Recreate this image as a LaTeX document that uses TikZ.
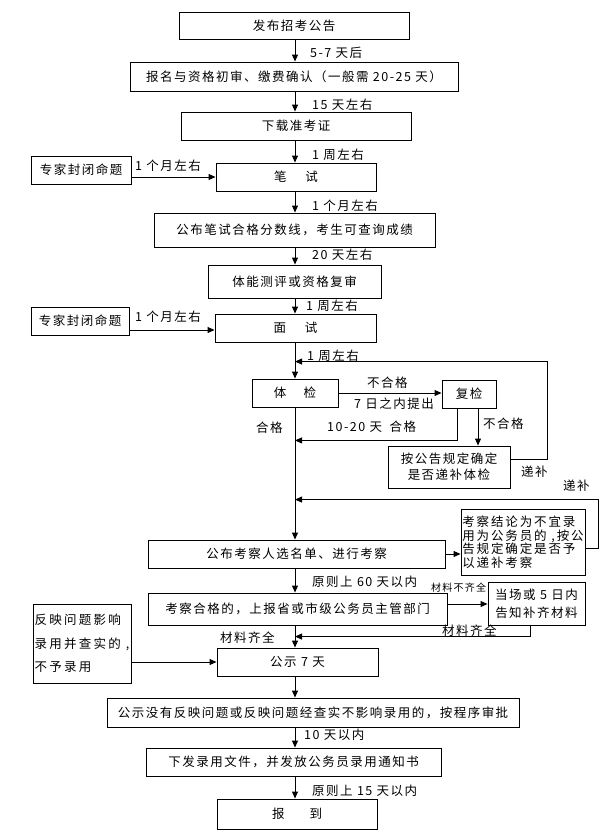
\documentclass[tikz,border=0pt]{standalone}
\usepackage{fontspec}
\setmainfont[LetterSpace=12]{Noto Sans CJK SC}
\usetikzlibrary{arrows.meta}
\tikzset{
  box/.style={draw, line width=0.9pt, inner sep=0pt, align=center},
  arr/.style={-{Triangle[length=7pt,width=6pt]}, line width=0.9pt},
  ln/.style={line width=0.9pt},
  lbl/.style={inner sep=0pt, anchor=west},
}
\begin{document}
\begin{tikzpicture}[x=1pt,y=-1pt, font=\fontsize{12.5}{15}\selectfont]
\useasboundingbox (0,0) rectangle (600,836);
\coordinate (m) at (295,0);

% main column
\node[box, minimum width=230, minimum height=27] (b1) at (294,25.5) {发布招考公告};
\node[box, minimum width=328, minimum height=29] (b2) at (294,76.5) {报名与资格初审、缴费确认（一般需 20-25 天）};
\node[box, minimum width=230, minimum height=28] (b3) at (296,126) {下载准考证};
\node[box, minimum width=160, minimum height=28] (b4) at (296,177) {笔\hspace{1.5em}试};
\node[box, minimum width=281, minimum height=34] (b5) at (294.5,230) {公布笔试合格分数线，考生可查询成绩};
\node[box, minimum width=173, minimum height=33] (b6) at (294.5,281.5) {体能测评或资格复审};
\node[box, minimum width=161, minimum height=28] (b7) at (295.5,328) {面\hspace{1.5em}试};
\node[box, minimum width=86, minimum height=28] (b8) at (295,393) {体\hspace{1.4em}检};
\node[box, minimum width=297, minimum height=28] (b9) at (296.5,554) {公布考察人选名单、进行考察};
\node[box, minimum width=299, minimum height=32] (b10) at (297.5,609) {考察合格的，上报省或市级公务员主管部门};
\node[box, minimum width=161, minimum height=28] (b11) at (297.5,662) {公示 7 天};
\node[box, minimum width=412, minimum height=29] (b12) at (313,712.5) {公示没有反映问题或反映问题经查实不影响录用的，按程序审批};
\node[box, minimum width=295, minimum height=28] (b13) at (293.5,762) {下发录用文件，并发放公务员录用通知书};
\node[box, minimum width=160, minimum height=30] (b14) at (297,814) {报\hspace{2em}到};

% side boxes
\node[box, minimum width=100, minimum height=28] (e1) at (81,170) {专家封闭命题};
\node[box, minimum width=98, minimum height=28] (e2) at (80,321) {专家封闭命题};
\node[box, minimum width=54, minimum height=28] (r1) at (469,394) {复检};
\node[box, minimum width=122, minimum height=42, font=\fontsize{12.5}{16}\selectfont] (r2) at (449,467) {按公告规定确定\\是否递补体检};
\node[box, minimum width=124, minimum height=66, align=left,
      font=\fontsize{12.5}{13.5}\selectfont\addfontfeature{LetterSpace=15}] (r3) at (523,542)
      {考察结论为不宜录\\用为公务员的~,按公\\告规定确定是否予\\以递补考察};
\node[box, minimum width=97, minimum height=43, font=\fontsize{12.5}{18}\selectfont] (r4) at (536.5,603.5) {当场或 5 日内\\告知补齐材料};
\node[box, minimum width=98, minimum height=79, align=left,
      font=\fontsize{12.5}{23.5}\selectfont\addfontfeature{LetterSpace=18}] (l1) at (82,643.5)
      {反映问题影响\\录用并查实的~,\\不予录用};

% main arrows
\draw[arr] (b1.south -| m) -- (b2.north -| m);
\draw[arr] (b2.south -| m) -- (b3.north -| m);
\draw[arr] (b3.south -| m) -- (b4.north -| m);
\draw[arr] (b4.south -| m) -- (b5.north -| m);
\draw[arr] (b5.south -| m) -- (b6.north -| m);
\draw[arr] (b6.south -| m) -- (b7.north -| m);
\draw[arr] (b7.south -| m) -- (b8.north -| m);
\draw[arr] (b8.south -| m) -- (b9.north -| m);
\draw[arr] (b9.south -| m) -- (b10.north -| m);
\draw[arr] (b10.south -| m) -- (b11.north -| m);
\draw[arr] (b11.south -| m) -- (b12.north -| m);
\draw[arr] (b12.south -| m) -- (b13.north -| m);
\draw[arr] (b13.south -| m) -- (b14.north -| m);

% side arrows
\draw[arr] (b4.west -| e1.east) -- (b4.west);
\draw[arr] ([yshift=-2]b7.west -| e2.east) -- ([yshift=-2]b7.west);
\draw[arr] (b8.east) -- (b8.east -| r1.west);
\draw[arr] ([xshift=9]r1.south) -- ([xshift=9]r1.south |- r2.north);
\draw[arr] ([xshift=-12]r1.south) |- ([yshift=-33]b8.south -| m);
\draw[arr] ([yshift=8]r2.east) -- ++(37,0) |- ([yshift=17]b8.north -| m);
\draw[arr] (b9.east) -- (b9.east -| r3.west);
\draw[arr] ([yshift=-6]r3.east) -- ++(13,0) |- ([yshift=40]b9.north -| m);
\draw[arr] ([yshift=5]b10.east) -- ([yshift=5]b10.east -| r4.west);
\draw[arr] ([xshift=-6]r4.south) |- ([yshift=11]b11.north -| m);
\draw[arr] (b11.west -| l1.east) -- (b11.west);

% labels
\node[lbl] (t1) at (310,53) {5-7 天后};
\node[lbl] (t2) at (312,105) {15 天左右};
\node[lbl] (t3) at (312,155) {1 周左右};
\node[lbl] (t4) at (135,166) {1 个月左右};
\node[lbl] (t5) at (312,206) {1 个月左右};
\node[lbl] (t6) at (312,255) {20 天左右};
\node[lbl] (t7) at (306,306) {1 周左右};
\node[lbl] (t8) at (135,317) {1 个月左右};
\node[lbl] (t9) at (307,356) {1 周左右};
\node[lbl] (t10) at (367,383) {不合格};
\node[lbl] (t11) at (354,404) {7 日之内提出};
\node[lbl] (t12) at (256,428) {合格};
\node[lbl] (t13) at (327,427) {10-20 天\hspace{0.6em}合格};
\node[lbl] (t14) at (483,424) {不合格};
\node[lbl] (t15) at (521,472) {递补};
\node[lbl] (t16) at (563,486) {递补};
\node[lbl] (t17) at (312,582) {原则上 60 天以内};
\node[lbl, font=\fontsize{10}{12}\selectfont] (t18) at (431,588) {材料不齐全};
\node[lbl] (t19) at (220,638) {材料齐全};
\node[lbl] (t20) at (442,631) {材料齐全};
\node[lbl] (t21) at (304,735) {10 天以内};
\node[lbl] (t22) at (312,791) {原则上 15 天以内};
\end{tikzpicture}
\end{document}
